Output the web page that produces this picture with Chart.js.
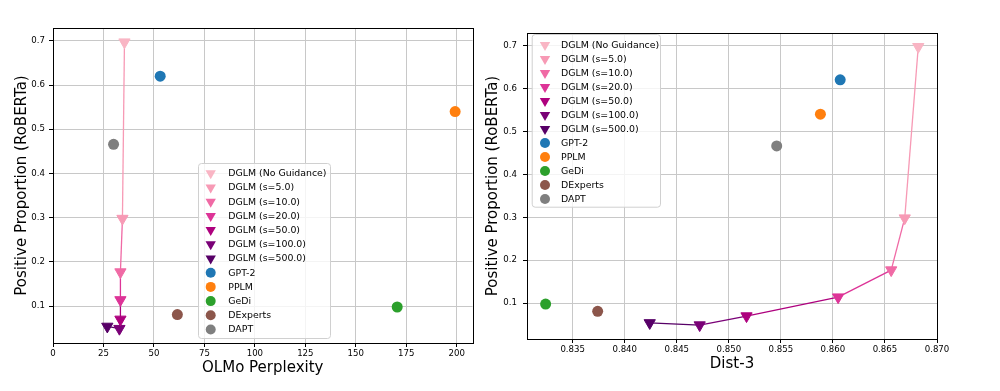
<!DOCTYPE html>
<html>
<head>
<meta charset="utf-8">
<script src="https://cdn.jsdelivr.net/npm/chart.js@4.4.0/dist/chart.umd.min.js"></script>
<style>
  html, body { margin: 0; padding: 0; background: #fff; }
  #wrap { position: relative; width: 1000px; height: 391px; overflow: hidden; }
  canvas { position: absolute; top: 0; }
  #left { left: 0; width: 480px; height: 391px; }
  #right { left: 480px; width: 520px; height: 391px; }
</style>
</head>
<body>
<div id="wrap">
  <canvas id="left" width="480" height="391"></canvas>
  <canvas id="right" width="520" height="391"></canvas>
</div>
<script>
// DGLM guidance sweep (no guidance -> strongest)
const dglmLabels = ['DGLM (No Guidance)', 'DGLM (s=5.0)', 'DGLM (s=10.0)', 'DGLM (s=20.0)',
                    'DGLM (s=50.0)', 'DGLM (s=100.0)', 'DGLM (s=500.0)'];
const dglmPerplexity = [35.4, 34.4, 33.4, 33.4, 33.4, 32.9, 26.9];
const dglmDist3 = [0.8682, 0.8669, 0.8656, 0.8605, 0.8517, 0.8472, 0.8424];
const dglmPositive = [0.697, 0.298, 0.177, 0.114, 0.070, 0.049, 0.054];
const dglmColors = ['#f9b5c4', '#f79ab5', '#f06aa5', '#dd3497', '#ae017e', '#7a0177', '#570067'];

// baselines
const baseLabels = ['GPT-2', 'PPLM', 'GeDi', 'DExperts', 'DAPT'];
const basePerplexity = [53.1, 199.2, 170.5, 61.6, 30.0];
const baseDist3 = [0.8607, 0.8588, 0.8324, 0.8374, 0.8546];
const basePositive = [0.620, 0.540, 0.098, 0.081, 0.466];
const baseColors = ['#1f77b4', '#ff7f0e', '#2ca02c', '#8c564b', '#7f7f7f'];

// tick labels
const yTicks = [0.1, 0.2, 0.3, 0.4, 0.5, 0.6, 0.7];
const perplexityTicks = [0, 25, 50, 75, 100, 125, 150, 175, 200];
const dist3Ticks = [0.835, 0.840, 0.845, 0.850, 0.855, 0.860, 0.865, 0.870];

const FONT = 'DejaVu Sans';

function buildDatasets(xs, bxs) {
  const ds = [];
  ds.push({
    data: xs.map((x, i) => ({ x: x, y: dglmPositive[i] })),
    showLine: true,
    borderWidth: 1.3,
    pointRadius: 0,
    order: 1,
    segment: { borderColor: c => dglmColors[c.p1DataIndex] }
  });
  dglmLabels.forEach((lab, i) => {
    ds.push({
      label: lab,
      data: [{ x: xs[i], y: dglmPositive[i] }],
      pointStyle: 'triangle',
      pointRotation: 180,
      pointRadius: 6.5,
      pointBorderWidth: 1,
      pointBackgroundColor: dglmColors[i],
      pointBorderColor: dglmColors[i],
      order: 0
    });
  });
  baseLabels.forEach((lab, i) => {
    ds.push({
      label: lab,
      data: [{ x: bxs[i], y: basePositive[i] }],
      pointStyle: 'circle',
      pointRadius: 5.5,
      pointBorderWidth: 0,
      pointBackgroundColor: baseColors[i],
      pointBorderColor: baseColors[i],
      order: 0
    });
  });
  return ds;
}

// black frame around plot area
const frame = {
  id: 'frame',
  beforeDatasetsDraw(chart) {
    const { ctx, chartArea: a } = chart;
    ctx.save();
    ctx.strokeStyle = '#000';
    ctx.lineWidth = 1;
    ctx.strokeRect(Math.round(a.left) + 0.5, Math.round(a.top) + 0.5,
                   Math.round(a.right - a.left), Math.round(a.bottom - a.top));
    ctx.restore();
  }
};

// matplotlib-like legend box inside the axes
const legendBox = {
  id: 'legendBox',
  afterDraw(chart, args, o) {
    const ctx = chart.ctx;
    const items = chart.data.datasets.filter(d => d.label);
    ctx.save();
    ctx.beginPath();
    ctx.roundRect(o.x + 0.5, o.y + 0.5, o.w, o.h, 3);
    ctx.fillStyle = 'rgba(255,255,255,0.8)';
    ctx.fill();
    ctx.strokeStyle = '#d0d0d0';
    ctx.lineWidth = 1;
    ctx.stroke();
    ctx.font = '9.4px "' + FONT + '"';
    ctx.textBaseline = 'middle';
    items.forEach((d, i) => {
      const y = o.y + o.first + i * o.step;
      const x = o.x + o.markerDx;
      ctx.fillStyle = d.pointBackgroundColor;
      ctx.beginPath();
      if (d.pointStyle === 'triangle') {
        const r = 6;
        ctx.moveTo(x, y + r);
        ctx.lineTo(x - r * 0.866, y - r / 2);
        ctx.lineTo(x + r * 0.866, y - r / 2);
        ctx.closePath();
      } else {
        ctx.arc(x, y, 5, 0, Math.PI * 2);
      }
      ctx.fill();
      ctx.fillStyle = '#000';
      ctx.fillText(d.label, o.x + o.textDx, y + 0.5);
    });
    ctx.restore();
  }
};

function makeChart(id, cfg) {
  const ctx = document.getElementById(id).getContext('2d');
  return new Chart(ctx, {
    type: 'scatter',
    data: { datasets: buildDatasets(cfg.xs, cfg.bxs) },
    options: {
      responsive: false,
      animation: false,
      layout: { padding: cfg.padding },
      plugins: {
        legend: { display: false },
        tooltip: { enabled: false },
        legendBox: cfg.legend
      },
      scales: {
        x: {
          type: 'linear',
          min: cfg.xMin,
          max: cfg.xMax,
          afterBuildTicks: s => { s.ticks = cfg.xTicks.map(v => ({ value: v })); },
          afterFit: s => { s.height = cfg.xHeight; },
          ticks: {
            callback: cfg.xFormat,
            font: { family: FONT, size: 8.6 },
            color: '#000',
            padding: 2,
            maxRotation: 0,
            autoSkip: false
          },
          grid: { color: '#c8c8c8', lineWidth: 1, tickLength: 4, tickColor: '#000' },
          border: { display: false },
          title: {
            display: true,
            text: cfg.xTitle,
            font: { family: FONT, size: 15 },
            color: '#000',
            padding: { top: 0, bottom: cfg.xTitlePad }
          }
        },
        y: {
          type: 'linear',
          min: cfg.yMin,
          max: cfg.yMax,
          afterBuildTicks: s => { s.ticks = yTicks.map(v => ({ value: v })); },
          afterFit: s => { s.width = cfg.yWidth; },
          ticks: {
            callback: v => v.toFixed(1),
            font: { family: FONT, size: 8.6 },
            color: '#000',
            padding: cfg.yTickPad,
            autoSkip: false
          },
          grid: { color: '#c8c8c8', lineWidth: 1, tickLength: 4, tickColor: '#000' },
          border: { display: false },
          title: {
            display: true,
            text: 'Positive Proportion (RoBERTa)',
            font: { family: FONT, size: 15 },
            color: '#000',
            padding: { top: cfg.yTitlePad, bottom: 0 }
          }
        }
      }
    },
    plugins: [frame, legendBox]
  });
}

makeChart('left', {
  xs: dglmPerplexity, bxs: basePerplexity,
  xMin: 0, xMax: 207.8, yMin: 0.0166, yMax: 0.729,
  xTicks: perplexityTicks, xFormat: v => String(v),
  xTitle: 'OLMo Perplexity', xTitlePad: 14, xHeight: 48,
  yWidth: 53, yTitlePad: 13, yTickPad: 4,
  padding: { top: 28, right: 5, left: 0, bottom: 0 },
  legend: { x: 198, y: 163, w: 132, h: 175, first: 10.3, step: 14.2, markerDx: 12.7, textDx: 30.3 }
});

makeChart('right', {
  xs: dglmDist3, bxs: baseDist3,
  xMin: 0.83061, xMax: 0.8700, yMin: 0.0166, yMax: 0.729,
  xTicks: dist3Ticks, xFormat: v => v.toFixed(3),
  xTitle: 'Dist-3', xTitlePad: 17.5, xHeight: 52,
  yWidth: 47, yTitlePad: 4, yTickPad: 6,
  padding: { top: 33, right: 63, left: 0, bottom: 0 },
  legend: { x: 51.7, y: 34, w: 128.3, h: 172.7, first: 11, step: 14, markerDx: 13.3, textDx: 29.3 }
});
</script>
</body>
</html>
